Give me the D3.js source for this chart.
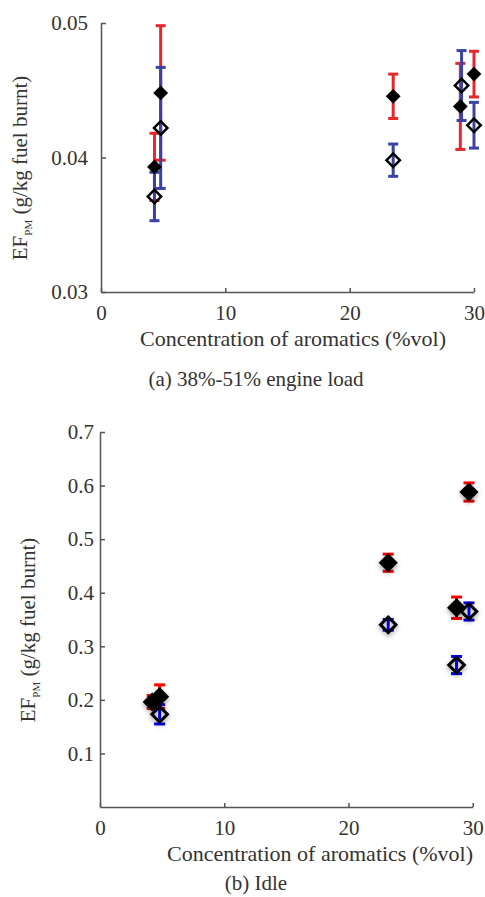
<!DOCTYPE html>
<html>
<head>
<meta charset="utf-8">
<script src="https://cdn.jsdelivr.net/npm/d3@7"></script>
<style>
  body { margin: 0; background: #fff; }
  text { font-family: "Liberation Serif", "DejaVu Serif", serif; fill: #333; }
</style>
</head>
<body>
<div id="canvas"></div>
<script>
"use strict"

/* Data: x = concentration of aromatics (%vol), y = EF_PM, err = half error bar */
let xTicks = [0, 10, 20, 30];

/* (a) 38%-51% engine load */
let loadTicks = [0.03, 0.04, 0.05];
let loadFilledX = [4.3, 4.8, 23.5, 28.9, 30.0];
let loadFilledY = [0.0393, 0.0448, 0.04455, 0.0438, 0.0462];
let loadFilledErr = [0.0025, 0.0050, 0.00165, 0.0032, 0.0017];
let loadOpenX = [4.3, 4.8, 23.5, 29.0, 30.0];
let loadOpenY = [0.0371, 0.0422, 0.0398, 0.04535, 0.0424];
let loadOpenErr = [0.0018, 0.0045, 0.0012, 0.0026, 0.0017];

/* (b) Idle */
let idleTicks = [0.1, 0.2, 0.3, 0.4, 0.5, 0.6, 0.7];
let idleFilledX = [4.2, 4.8, 23.2, 28.7, 29.7];
let idleFilledY = [0.196, 0.206, 0.456, 0.372, 0.588];
let idleFilledErr = [0.012, 0.022, 0.016, 0.020, 0.017];
let idleOpenX = [4.8, 23.2, 28.7, 29.7];
let idleOpenY = [0.173, 0.340, 0.265, 0.365];
let idleOpenErr = [0.018, 0.010, 0.016, 0.016];

let svgWidth = 485;
let svgHeight = 897;

let svg = d3.select("#canvas")
    .append("svg")
    .attr("width", svgWidth)
    .attr("height", svgHeight);

/* soft shadow used on the idle panel markers */
let filter = svg.append("defs").append("filter")
    .attr("id", "shadow")
    .attr("x", "-50%").attr("y", "-50%")
    .attr("width", "200%").attr("height", "200%");
filter.append("feDropShadow")
    .attr("dx", 0).attr("dy", 2)
    .attr("stdDeviation", 2.5)
    .attr("flood-color", "#000")
    .attr("flood-opacity", 0.4);

function zip(xs, ys, es) {
    return xs.map((x, i) => ({ x: x, y: ys[i], e: es[i] }));
}

function drawPanel(p) {
    let x = d3.scaleLinear().domain([0, 30]).range([p.left, p.right]);
    let y = d3.scaleLinear().domain(p.yDomain).range([p.bottom, p.top]);

    let g = svg.append("g");

    /* axes, ticks pointing inward */
    g.append("g")
        .attr("transform", "translate(0," + p.bottom + ")")
        .call(d3.axisBottom(x).tickValues(xTicks).tickSizeInner(-4).tickSizeOuter(0).tickPadding(13));
    g.append("g")
        .attr("transform", "translate(" + p.left + ",0)")
        .call(d3.axisLeft(y).tickValues(p.yTicks).tickFormat(d3.format(p.fmt))
            .tickSizeInner(-5).tickSizeOuter(0).tickPadding(p.yPad));

    g.selectAll(".domain, .tick line").attr("stroke", "#555").attr("stroke-width", 1.5);
    g.selectAll(".tick text")
        .style("font-family", "'Liberation Serif', serif")
        .style("font-size", "21px")
        .attr("fill", "#333");

    /* error bars: red for filled, blue for open */
    let bars = [
        { data: zip(p.filledX, p.filledY, p.filledErr), color: p.red },
        { data: zip(p.openX, p.openY, p.openErr), color: p.blue }
    ];
    bars.forEach(function (b) {
        let eb = g.append("g")
            .attr("stroke", b.color)
            .attr("stroke-width", p.barWidth)
            .attr("fill", "none");
        eb.selectAll("line.v").data(b.data).join("line")
            .attr("class", "v")
            .attr("x1", d => x(d.x)).attr("x2", d => x(d.x))
            .attr("y1", d => y(d.y - d.e)).attr("y2", d => y(d.y + d.e));
        eb.selectAll("line.top").data(b.data).join("line")
            .attr("class", "top")
            .attr("x1", d => x(d.x) - p.cap).attr("x2", d => x(d.x) + p.cap)
            .attr("y1", d => y(d.y + d.e)).attr("y2", d => y(d.y + d.e));
        eb.selectAll("line.bot").data(b.data).join("line")
            .attr("class", "bot")
            .attr("x1", d => x(d.x) - p.cap).attr("x2", d => x(d.x) + p.cap)
            .attr("y1", d => y(d.y - d.e)).attr("y2", d => y(d.y - d.e));
    });

    /* markers */
    let marks = g.append("g");
    if (p.shadow) marks.attr("filter", "url(#shadow)");

    marks.selectAll("path.filled")
        .data(zip(p.filledX, p.filledY, p.filledErr))
        .join("path")
        .attr("class", "filled")
        .attr("d", d3.symbol(d3.symbolSquare, p.filledSide * p.filledSide))
        .attr("transform", d => "translate(" + x(d.x) + "," + y(d.y) + ") rotate(45)")
        .attr("fill", "#000");

    marks.selectAll("path.open")
        .data(zip(p.openX, p.openY, p.openErr))
        .join("path")
        .attr("class", "open")
        .attr("d", d3.symbol(d3.symbolSquare, p.openSide * p.openSide))
        .attr("transform", d => "translate(" + x(d.x) + "," + y(d.y) + ") rotate(45)")
        .attr("fill", "none")
        .attr("stroke", "#000")
        .attr("stroke-width", p.openStroke);

    /* axis titles */
    g.append("text")
        .attr("x", p.xLabelX)
        .attr("y", p.xLabelY)
        .attr("text-anchor", "middle")
        .style("font-size", "22px")
        .text("Concentration of aromatics (%vol)");

    let yl = g.append("text")
        .attr("transform", "translate(" + p.yLabelX + "," + p.yLabelY + ") rotate(-90)")
        .attr("text-anchor", "middle")
        .style("font-size", "21px");
    yl.append("tspan").text("EF");
    yl.append("tspan").attr("dy", 5).style("font-size", "11px").text("PM");
    yl.append("tspan").attr("dy", -5).text(" (g/kg fuel burnt)");

    g.append("text")
        .attr("x", p.capX)
        .attr("y", p.capY)
        .attr("text-anchor", "middle")
        .style("font-size", "21px")
        .attr("fill", "#111")
        .text(p.caption);
}

drawPanel({
    left: 101, right: 474, top: 23, bottom: 292,
    yDomain: [0.03, 0.05], yTicks: loadTicks, fmt: ".2f", yPad: 13,
    filledX: loadFilledX, filledY: loadFilledY, filledErr: loadFilledErr,
    openX: loadOpenX, openY: loadOpenY, openErr: loadOpenErr,
    red: "#e8262b", blue: "#3a44a0", barWidth: 3, cap: 5,
    filledSide: 10.5, openSide: 9.5, openStroke: 2.5, shadow: false,
    xLabelX: 293, xLabelY: 346, yLabelX: 27, yLabelY: 168,
    capX: 256, capY: 386, caption: "(a) 38%-51% engine load"
});

drawPanel({
    left: 100, right: 472.7, top: 432, bottom: 807,
    yDomain: [0, 0.7], yTicks: idleTicks, fmt: ".1f", yPad: 6,
    filledX: idleFilledX, filledY: idleFilledY, filledErr: idleFilledErr,
    openX: idleOpenX, openY: idleOpenY, openErr: idleOpenErr,
    red: "#ff0000", blue: "#0000ff", barWidth: 3, cap: 5.5,
    filledSide: 13.5, openSide: 11, openStroke: 3, shadow: true,
    xLabelX: 320, xLabelY: 861, yLabelX: 35, yLabelY: 630,
    capX: 256, capY: 890, caption: "(b) Idle"
});
</script>
</body>
</html>
